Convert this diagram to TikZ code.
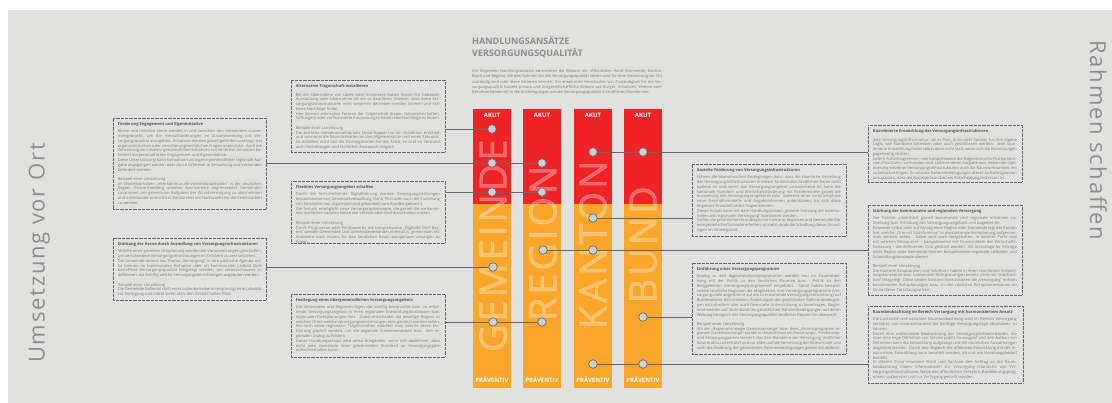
\documentclass[tikz,border=0pt]{standalone}
\usepackage{fontspec}
\setmainfont{Open Sans}
\setlength{\emergencystretch}{6pt}
\pgfdeclarelayer{back}
\pgfdeclarelayer{wires}
\pgfsetlayers{back,wires,main}

\definecolor{paper}{HTML}{E1E2DF}
\definecolor{akut}{HTML}{EE2326}
\definecolor{praev}{HTML}{F9A62A}
\definecolor{txt}{HTML}{7A7A7A}
\definecolor{head}{HTML}{555555}
\definecolor{wire}{HTML}{65676A}
\definecolor{knob}{HTML}{CDD1D5}
\definecolor{side}{HTML}{8C8C8C}

\tikzset{
  frame/.style={draw=wire, line width=0.6pt, dash pattern=on 0.6pt off 0.7pt,
    inner sep=0pt, outer sep=0pt, anchor=north west},
  boxtext/.style={anchor=north west, inner sep=0pt, text width=144pt, align=justify,
    font=\fontsize{4}{4.77}\selectfont, text=txt},
  link/.style={draw=wire, line width=0.8pt},
  knobstyle/.style={circle, draw=wire, fill=knob, line width=0.7pt,
    minimum size=8.6pt, inner sep=0pt},
  tag/.style={text=white, inner sep=0pt, anchor=base,
    font=\fontsize{6}{6}\bfseries\selectfont},
  level/.style={rotate=90, text=white, opacity=0.3, inner sep=0pt,
    text height=26.8pt, text depth=0pt,
    font=\fontsize{37.5}{37.5}\selectfont\addfontfeature{LetterSpace=8.5,FakeBold=1.5}},
  sidetitle/.style={text=side, inner sep=0pt, text height=15.7pt, text depth=0pt,
    font=\fontsize{22}{22}\selectfont\addfontfeature{LetterSpace=8}}
}

\newcommand\infohead[1]{\strut{\bfseries\color{head}#1}\par\vspace{2.2pt}}
\newcommand\infogap{\par\vspace{4.6pt}}

\begin{document}
\begin{tikzpicture}[x=1pt,y=-1pt]
\useasboundingbox (0,0) rectangle (1112,403);

\begin{pgfonlayer}{back}
  \fill[white] (0,0) rectangle (1112,403);
  \fill[paper] (8,10) rectangle (1112,403);
  % the four levels: acute (red) above, preventive (orange) below
  \foreach \x in {473,523,574,624}{
    \fill[akut]  (\x,109) rectangle ++(38,95);
    \fill[praev] (\x,204) rectangle ++(38,184);
  }
  \node[level] (wGemeinde) at (493,245.8) {GEMEINDE};
  \node[level] (wRegion)   at (543,243.3) {REGION};
  \node[level] (wKanton)   at (593,244.8) {KANTON};
  \node[level] (wBund)     at (643,244.8) {BUND};
\end{pgfonlayer}

% column labels
\foreach \x/\n in {492/1,542/2,593/3,643/4}{
  \node[tag] (akut\n) at (\x,117.8) {AKUT};
  \node[tag] (prev\n) at (\x,382.2) {PRÄVENTIV};
}

% heading and introduction
\node[anchor=base west, inner sep=0pt, text=side, font=\fontsize{9}{12}\bfseries\selectfont]
  (title1) at (472,44.6) {HANDLUNGSANSÄTZE};
\node[anchor=base west, inner sep=0pt, text=side, font=\fontsize{9}{12}\bfseries\selectfont]
  (title2) at (472,56.4) {VERSORGUNGSQUALITÄT};
\node[anchor=north west, inner sep=0pt, text width=190pt, align=justify, text=txt,
  font=\fontsize{3.95}{5.4}\selectfont] (intro) at (472,69)
  {Die folgenden Handlungsansätze adressieren die Akteure der öffentlichen Hand (Gemeinde, Kanton, Bund und Region), die den Rahmen für die Versorgungsqualität setzen und für eine Umsetzung vor Ort zuständig sind oder diese initiieren können. Ein erweitertes Verständnis von Zuständigkeit für die Versorgungsqualität bezieht private und zivilgesellschaftliche Akteure wie Bürger, Initiativen, Vereine oder Berufsverbände mit in die Anstrengungen um die Versorgungsqualität in ländlichen Räumen ein.};

% side titles
\node[sidetitle, rotate=90] (ort) at (36.7,253) {Umsetzung vor Ort};
\node[sidetitle, rotate=-90] (rahmen) at (1098,140.5) {Rahmen schaffen};

% ---------- frames ----------
\node[frame, minimum width=153pt, minimum height=91pt] (A) at (113,118) {};
\node[frame, minimum width=154pt, minimum height=72pt] (B) at (291,80) {};
\node[frame, minimum width=154pt, minimum height=62pt] (C) at (291,181) {};
\node[frame, minimum width=153pt, minimum height=62pt] (D) at (113,238) {};
\node[frame, minimum width=154pt, minimum height=63pt] (E) at (291,294) {};
\node[frame, minimum width=154pt, minimum height=57pt] (F) at (868,125) {};
\node[frame, minimum width=154pt, minimum height=72pt] (G) at (692,164) {};
\node[frame, minimum width=154pt, minimum height=90pt] (H) at (868,205) {};
\node[frame, minimum width=154pt, minimum height=91pt] (I) at (692,263) {};
\node[frame, minimum width=155pt, minimum height=77pt] (J) at (868,306) {};

\node[boxtext] (tA) at ([xshift=4.7pt,yshift=-4.4pt]A.north west) {%
\infohead{Förderung Engagement und Eigeninitiative}
Aktive und initiative Leute werden in und zwischen den Gemeinden zusammengebracht, um die Herausforderungen im Zusammenhang mit Versorgungsqualität anzugehen. Initiativen werden gezielt gefördert und bzgl. bei organisatorischen oder versicherungsrechtlichen Fragen unterstützt. Auch die Vernetzung von lokalen/ gemeindlichen Initiativen mit ähnlichen Initiativen befördert bürgerschaftliches Engagement und Eigeninitiative.\par
Diese Unterstützung kann formalisiert als eigene gemeindliche/ regionale Aufgabe angegangen werden oder durch Offenheit in Verwaltung und Verbänden befördert werden.\infogap
Beispiel einer Umsetzung\par
Im Modellvorhaben „Interkommunale Vereinskooperation“ in der deutschen Region Ostwürttemberg arbeiten Sportvereine angrenzender Gemeinden zusammen, um gemeinsam Aufgaben der Grundversorgung zu übernehmen und miteinander und nicht in Konkurrenz um Nachwuchs für die Vereinsarbeit zu werben.};

\node[boxtext] (tB) at ([xshift=4.7pt,yshift=-4.4pt]B.north west) {%
\infohead{Alternative Trägerschaft installieren}
Bei der Übernahme von Läden oder Arztpraxen haben Kosten für Gebäude, Ausstattung oder Übernahme oft ein so deutliches Gewicht, dass diese Versorgungsinfrastrukturen nicht weiterhin betrieben werden können und sich keine Nachfolge findet.\par
Hier können alternative Formen der Trägerschaft (bspw. Genossenschaften, Stiftungen) oder vorfinanzierte Ausstattungen helfen eine Nachfolge zu finden.\infogap
Beispiel einer Umsetzung\par
Die ärztliche Gemeinschaftspraxis Ebnat-Kappel hat ein Ärztehaus errichtet und vermietet die Räumlichkeiten an drei Allgemeinärzte und einen Zahnarzt. So entfallen nicht nur die Einstiegskosten für die Ärzte, es sind im Verbund auch Vertretungen und fachlicher Austausch möglich.};

\node[boxtext] (tC) at ([xshift=4.7pt,yshift=-4.4pt]C.north west) {%
\infohead{Flexibles Versorgungsangebot schaffen}
Durch die fortschreitende Digitalisierung werden Versorgungsleistungen beispielsweise von Gemeindeverwaltung, Bank, Post oder auch die Zustellung von Einkäufen neu organisiert und gebündelt zum Kunden gebracht.\par
Die Technik ermöglicht neue Versorgungskonzepte, die gezielt die vorhandenen dörflichen sozialen Netze wie Vereine oder Nachbarschaften nutzen.\infogap
Beispiel einer Umsetzung\par
Durch Programme oder Wettbewerbe wie beispielsweise „Digitales Dorf Bayern“ werden Gemeinden und Gemeindeverbände unterstützt, gemeinsam mit Anbietern nach neuen, für den ländlichen Raum passgenaue Lösungen zu finden.};

\node[boxtext] (tD) at ([xshift=4.7pt,yshift=-4.4pt]D.north west) {%
\infohead{Stärkung der Kerne durch Ansiedlung von Versorgungsinfrastrukturen}
Mithilfe einer gezielten Ortsplanung werden die Voraussetzungen geschaffen, um verschiedene Versorgungseinrichtungen im Ortskern zu zentralisieren.\par
Die Gemeinde nimmt das Thema „Versorgung“ in ihre politische Agenda auf. So können im kommunalen Richtplan oder im kommunalen Leitbild Ziele betreffend Versorgungsqualität festgelegt werden, um vorausschauend zu definieren, wo künftig welche Versorgungseinrichtungen angeboten werden.\infogap
Beispiel einer Umsetzung\par
Die Gemeinde Safiental stellt einer Ladenbetreiberin vergünstigt eine Lokalität zur Verfügung und stärkt somit aktiv den Ortsteil Safien Platz.};

\node[boxtext] (tE) at ([xshift=4.7pt,yshift=-4.4pt]E.north west) {%
\infohead{Festlegung eines übergemeindlichen Versorgungsangebots}
Die Gemeinden und Regionen legen das künftig erwünschte bzw. zu erhaltende Versorgungsangebot in ihren regionalen Entwicklungskonzepten bzw. regionalen Richtplanungen fest. Dabei entscheidet die jeweilige Region, in welchen Orten welche Versorgungseinrichtungen aktiv gestützt werden sollen. Wo noch keine regionalen Trägerschaften etabliert sind, könnte deren Einführung geprüft werden, um die regionale Zusammenarbeit bzw. den regionalen Dialog zu fördern.\par
Dieser Handlungsansatz wird umso dringender, wenn sich abzeichnet, dass nicht jede Gemeinde ihren gewünschten Standard an Versorgungsgüte aufrechterhalten kann.};

\node[boxtext] (tF) at ([xshift=4.7pt,yshift=-4.4pt]F.north west) {%
\infohead{Koordinierte Entwicklung der Versorgungsinfrastrukturen}
Jede Versorgungsinfrastruktur, sei es Post, Ärzte oder Spitäler hat ihre eigene Logik, wie Standorte betrieben oder auch geschlossen werden. Eine koordinierte Entwicklung findet selbst dann nicht statt, wenn sich die Einrichtungen gegenseitig stützen.\par
Sofern Aufsichtsgremien – wie beispielsweise die Eidgenössische Postkommission (PostCom) – vorhanden sind, sollte es deren Aufgabe sein, neben der Optimierung einzelner Versorgungsinfrastrukturen auch die Raumwirksamkeit mit zu berücksichtigen. Es sind die Rahmenbedingungen dieser Aufsichtsgremien anzupassen, dass die Raumwirksamkeit ein Entscheidungskriterium ist.};

\node[boxtext] (tG) at ([xshift=4.7pt,yshift=-4.4pt]G.north west) {%
\infohead{Gezielte Förderung von Versorgungsinfrastrukturen}
Führen die ökonomischen Bedingungen dazu, dass die räumliche Verteilung der Versorgungsinfrastrukturen in einem funktionalen ländlichen Raum nicht optimal ist und somit das Versorgungsangebot unzureichend ist, kann die kantonale Standort- und Wirtschaftsförderung mit Fördermitteln gezielt die Ausweitung des Versorgungsangebotes bzw. während einer Umbruchphase neue Geschäftsmodelle und Angebotsformen unterstützen, bis sich diese Angebote finanziell selbst tragen können.\par
Dieser Ansatz kann mit dem Handlungsansatz „gezielte Stützung der kommunalen und regionalen Versorgung“ kombiniert werden.\par
Sollten die gesetzlichen Grundlagen für Kantone, Regionen und Gemeinden für eine gezielte Einflussnahme fehlen, so steht vorab die Schaffung dieser Grundlagen im Vordergrund.};

\node[boxtext] (tH) at ([xshift=4.7pt,yshift=-4.4pt]H.north west) {%
\infohead{Stärkung der kommunalen und regionalen Versorgung}
Der Kanton unterstützt gezielt kommunale und regionale Initiativen zur Stärkung bzw. Erhaltung des Versorgungsangebots und begleitet sie.\par
Entweder selbst oder auf Antrag einer Region oder Gemeinde legt der Kanton fest, welche „Orte mit Stützfunktion“ in die kantonale Richtplanung aufgenommen werden sollen. Dabei wird auch festgehalten, in welcher Form und mit welchen Ressourcen – beispielsweise mit Finanzmitteln der Wirtschaftsförderung – die definierten Orte gestützt werden. Als Grundlage für Anträge einer Region oder Gemeinde können beispielsweise regionale Leitbilder und Entwicklungskonzepte dienen.\infogap
Beispiel einer Umsetzung\par
Die Kantone Graubünden und Solothurn haben in ihren räumlichen Entwicklungskonzepten bzw. kantonalen Richtplanungen bereits „Orte mit Stützfunktion“ festgelegt. Diese beiden Kantone thematisieren die „Versorgung“ in ihren bestehenden Richtplanungen bzw. in den nächsten Richtplanrevisionen im Sinne dieser Forschungsarbeit.};

\node[boxtext] (tI) at ([xshift=4.7pt,yshift=-4.4pt]I.north west) {%
\infohead{Einführung eines Versorgungsprogramms}
Analog zu den Agglomerationsprogrammen werden neu im Zusammenhang mit der Politik zu den ländlichen Räumen bzw. Politik zu den Berggebieten „Versorgungsprogramme“ eingeführt. Somit haben beispielsweise ländliche Regionen die Möglichkeit, ihre Versorgungsprogramme (Versorgungsziele abgestimmt auf die zu erwartende Versorgungsentwicklung) auf Bundesebene einzureichen, Änderungen der gesetzlichen Rahmenbedingungen einzufordern oder auch finanzielle Unterstützung zu beantragen. Begleitend werden auf Stufe Bund die gesetzlichen Rahmenbedingungen auf deren Wirkung bezüglich der Versorgungsqualität ländlicher Räume hin überprüft.\infogap
Beispiel einer Umsetzung\par
Mit der „Regionalstrategie Daseinsvorsorge“ bzw. dem „Aktionsprogramm regionale Daseinsvorsorge“ wurde in Deutschland ein Forschungs-, Förderungs- und Aktionsprogramm lanciert, das den Wandel in der Versorgung ländlicher Räume aktiv unterstützt und vor allem auf die Vernetzung der Akteure zielt und auch die Änderung der gesetzlichen Rahmenbedingungen gezielt mit abdeckt.};

\node[boxtext] (tJ) at ([xshift=4.7pt,yshift=-4.4pt]J.north west) {%
\infohead{Raumbeobachtung im Bereich Versorgung mit harmonisiertem Ansatz}
Die kantonale und nationale Raumbeobachtung wird im Bereich Versorgung verstärkt, um vorausschauend die künftige Versorgungslage abschätzen zu können.\par
Durch eine umfassende Beobachtung der Versorgungsinfrastrukturen, die über eine enge Definition von Service public hinausgeht und den Aufbau von Zeitreihen kann die Entwicklung aufgezeigt und die räumlichen Auswirkungen abgeleitet werden. Durch den Abgleich der effektiven Entwicklung mit der erwünschten Entwicklung kann beurteilt werden, ob und wie Handlungsbedarf besteht.\par
In diesem Sinne erweitern Bund und Kantone den Auftrag an die Raumbeobachtung indem Informationen zur Versorgung (Standorte von Versorgungsinfrastrukturen, Netze des öffentlichen Verkehrs, Bevölkerungsprognosen) aufbereitet und zur Verfügung gestellt werden.};

% ---------- knobs on the level columns ----------
\node[knobstyle] (g1) at (492,129) {};
\node[knobstyle] (g2) at (492,163) {};
\node[knobstyle] (g3) at (492,192) {};
\node[knobstyle] (g4) at (493,267) {};
\node[knobstyle] (g5) at (493,322) {};
\node[knobstyle] (r1) at (542,163) {};
\node[knobstyle] (r2) at (542,192) {};
\node[knobstyle] (r3) at (543,250) {};
\node[knobstyle] (r4) at (542,322) {};
\node[knobstyle] (k1) at (593,152) {};
\node[knobstyle] (k2) at (593,218) {};
\node[knobstyle] (k3) at (593,250) {};
\node[knobstyle] (k4) at (593,364) {};
\node[knobstyle] (b1) at (643,152) {};
\node[knobstyle] (b2) at (643,317) {};
\node[knobstyle] (b3) at (643,364) {};

% ---------- connectors ----------
\begin{pgfonlayer}{wires}
  \draw[link] (B.east |- g1) -- (g1.center);
  \draw[link] (A.east |- r1) -- (r1.center);
  \draw[link] (C.east |- r2) -- (r2.center);
  \draw[link] (D.east |- g4) -- (g4.center);
  \draw[link] (E.east |- r4) -- (r4.center);
  \draw[link] (k1.center) -- (k1 -| F.west);
  \draw[link] (k2.center) -- (k2 -| G.west);
  \draw[link] (r3.center) -- (r3 -| H.west);
  \draw[link] (b2.center) -- (b2 -| I.west);
  \draw[link] (k4.center) -- (k4 -| J.west);
\end{pgfonlayer}
\end{tikzpicture}
\end{document}
